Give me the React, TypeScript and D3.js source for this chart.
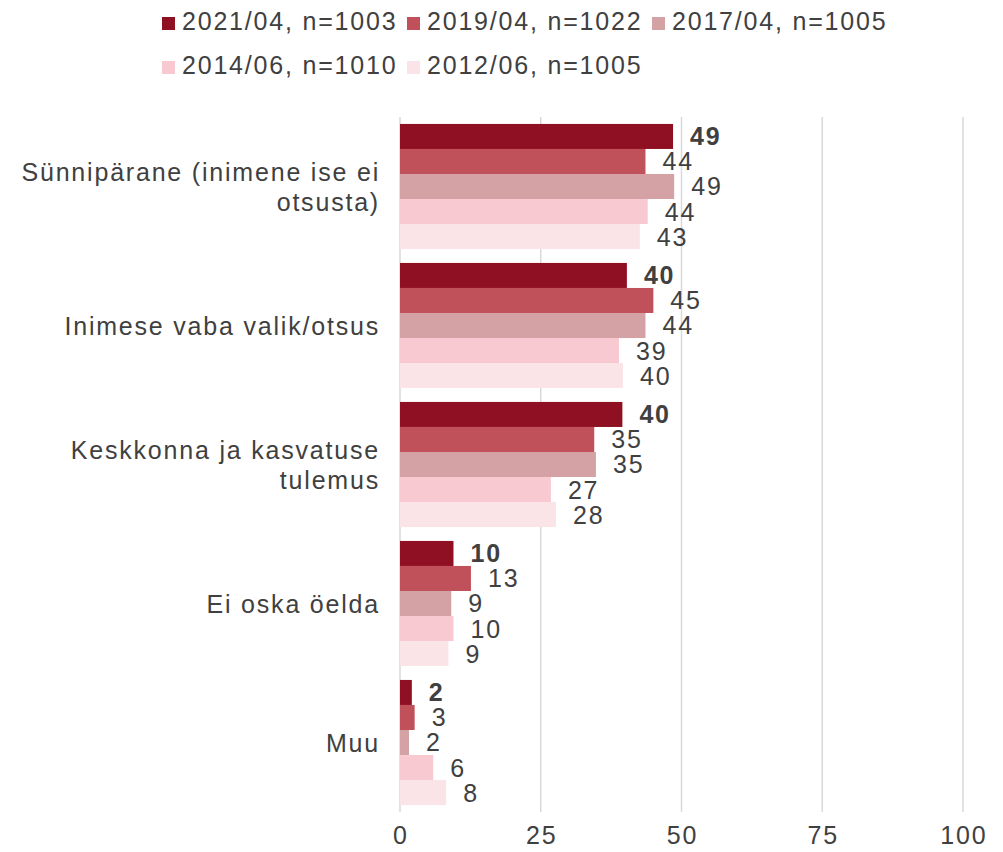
import React from "react";
import * as d3 from "d3";

const categories = [
  ["Sünnipärane (inimene ise ei", "otsusta)"],
  ["Inimese vaba valik/otsus"],
  ["Keskkonna ja kasvatuse", "tulemus"],
  ["Ei oska öelda"],
  ["Muu"],
];
const seriesNames = ["2021/04, n=1003", "2019/04, n=1022", "2017/04, n=1005", "2014/06, n=1010", "2012/06, n=1005"];
const s2021 = [48.5, 40.3, 39.5, 9.5, 2.1];
const s2019 = [43.6, 45.0, 34.5, 12.6, 2.6];
const s2017 = [48.7, 43.6, 34.8, 9.1, 1.6];
const s2014 = [44.0, 38.9, 26.8, 9.5, 5.9];
const s2012 = [42.6, 39.6, 27.7, 8.6, 8.2];
const series = [s2021, s2019, s2017, s2014, s2012];
const ticks = [0, 25, 50, 75, 100];
const colors = ["#8E1022", "#C0505A", "#D4A1A4", "#F8C9D0", "#FBE4E8"];

const FONT = "'Liberation Sans', Arial, Helvetica, sans-serif";
const TXT = "#404040";
const LS = 1.8;

export default function App() {
  const W = 1003, H = 852;
  const x = d3.scaleLinear().domain([0, 100]).range([400, 963]);
  const y = d3.scaleBand<number>().domain(d3.range(categories.length)).range([117, 812]).paddingInner(0.1).paddingOuter(0.05);
  const yi = d3.scaleBand<number>().domain(d3.range(series.length)).range([0, y.bandwidth()]);

  return (
    <svg width={W} height={H} style={{ position: "absolute", left: 0, top: 0, fontFamily: FONT }}>
      <rect width={W} height={H} fill="#fff" />
      {/* legend */}
      {seriesNames.map((n, i) => {
        const row = i < 3 ? 0 : 1;
        const col = i < 3 ? i : i - 3;
        const lx = 162 + col * 245;
        const ly = row === 0 ? 30 : 74;
        return (
          <g key={n}>
            <rect x={lx} y={ly - 13} width={13} height={13} fill={colors[i]} />
            <text x={lx + 20} y={ly} fontSize={25} fill={TXT} letterSpacing={LS}>{n}</text>
          </g>
        );
      })}
      {/* grid */}
      {ticks.map((t) => (
        <line key={t} x1={x(t)} x2={x(t)} y1={117} y2={812} stroke="#d9d9d9" strokeWidth={1.5} />
      ))}
      {/* bars */}
      {categories.map((c, ci) => (
        <g key={ci} transform={`translate(0,${y(ci)})`}>
          {series.map((s, si) => (
            <g key={si}>
              <rect x={x(0)} y={yi(si)} width={x(s[ci]) - x(0)} height={yi.bandwidth()} fill={colors[si]} />
              <text
                x={x(s[ci]) + 17}
                y={(yi(si) as number) + yi.bandwidth() / 2 + 9}
                fontSize={25}
                fill={TXT}
                letterSpacing={LS}
                fontWeight={si === 0 ? "bold" : "normal"}
              >
                {Math.round(s[ci])}
              </text>
            </g>
          ))}
        </g>
      ))}
      {/* category labels */}
      {categories.map((lines, ci) => {
        const cy = (y(ci) as number) + y.bandwidth() / 2;
        const n = lines.length;
        return (
          <text key={ci} textAnchor="end" fontSize={25} fill={TXT} letterSpacing={LS}>
            {lines.map((l, li) => (
              <tspan key={li} x={380} y={cy + 9 + (li - (n - 1) / 2) * 30}>{l}</tspan>
            ))}
          </text>
        );
      })}
      {/* x tick labels */}
      {ticks.map((t) => (
        <text key={t} x={x(t) + LS / 2} y={844} textAnchor="middle" fontSize={25} fill={TXT} letterSpacing={LS}>{t}</text>
      ))}
    </svg>
  );
}
